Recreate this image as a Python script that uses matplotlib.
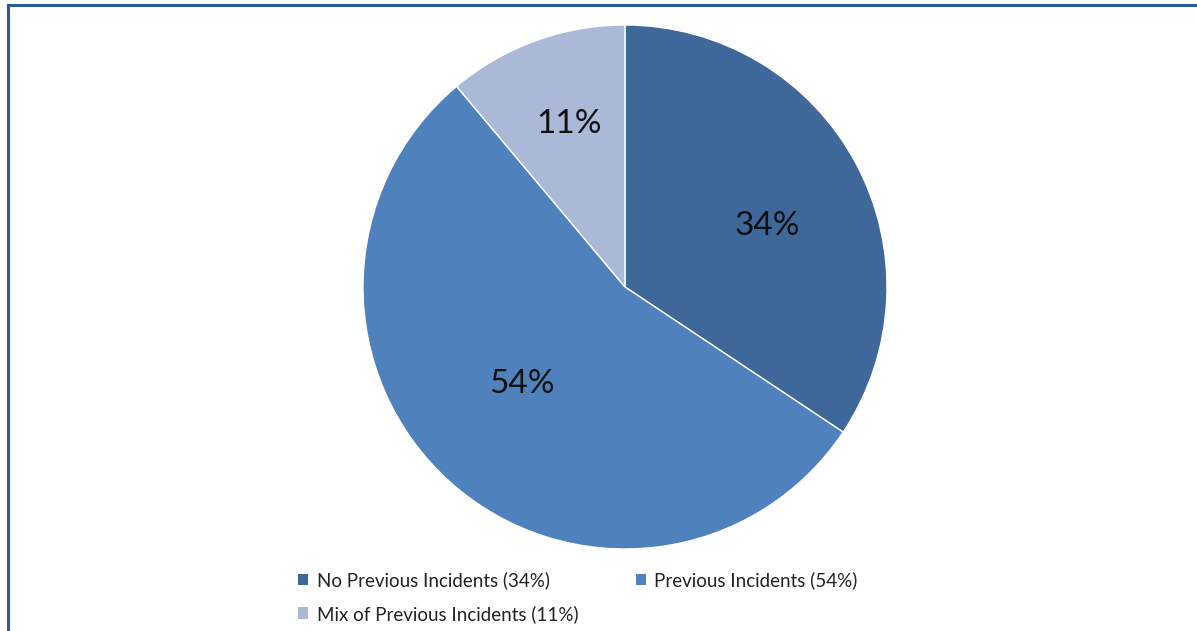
import numpy as np
import matplotlib.pyplot as plt
from matplotlib.patches import Patch
from matplotlib.lines import Line2D

# data
categories = ['No Previous Incidents', 'Previous Incidents', 'Mix of Previous Incidents']
values = [34, 54, 11]
colors = ['#3e6899', '#4f81bd', '#a9b9d7']

# label placement inside slices (radius fraction, degrees off mid-angle)
label_radius = [0.59, 0.54, 0.657]
label_shift = [-5, -5, -1]

plt.rcParams['font.family'] = ['Lato', 'DejaVu Sans']

fig = plt.figure(figsize=(11.97, 6.31), dpi=100)

# pie axes: centre ~ (625, 287) px, radius ~262 px
W, H = 1197, 631
cx, cy, r = 625, 287, 262
ax = fig.add_axes([(cx - r) / W, (H - cy - r) / H, 2 * r / W, 2 * r / H])

wedges, texts = ax.pie(
    values, colors=colors, startangle=90, counterclock=False, radius=1,
    wedgeprops=dict(edgecolor='white', linewidth=1),
)
for w, v, rr, sh in zip(wedges, values, label_radius, label_shift):
    ang = np.deg2rad((w.theta1 + w.theta2) / 2 + sh)
    ax.text(rr * np.cos(ang), rr * np.sin(ang), f'{v}%', fontsize=24,
            color='#111111', ha='center', va='center')
ax.set_xlim(-1, 1)
ax.set_ylim(-1, 1)
ax.set_aspect('equal')
ax.axis('off')

# legend, filled row-wise like the original
handles = [Patch(facecolor=c, edgecolor='none') for c in colors]
labels = [f'{n} ({v}%)' for n, v in zip(categories, values)]
order = [0, 2, 1]
fig.legend([handles[i] for i in order], [labels[i] for i in order],
           ncol=2, loc='upper left', bbox_to_anchor=(298 / W, 1 - 571 / H),
           frameon=False, fontsize=13.5, handlelength=0.55, handleheight=0.55,
           handletextpad=0.45, columnspacing=3.05, labelspacing=0.85,
           borderaxespad=0, borderpad=0, labelcolor='#222222')

# border on left and top
border = '#30589a'
fig.add_artist(Line2D([8 / W, 8 / W], [0, 1 - 5 / H], color=border, linewidth=2.2))
fig.add_artist(Line2D([8 / W, 1], [1 - 5 / H, 1 - 5 / H], color=border, linewidth=2.2))

fig.savefig('out.png', dpi=100)
